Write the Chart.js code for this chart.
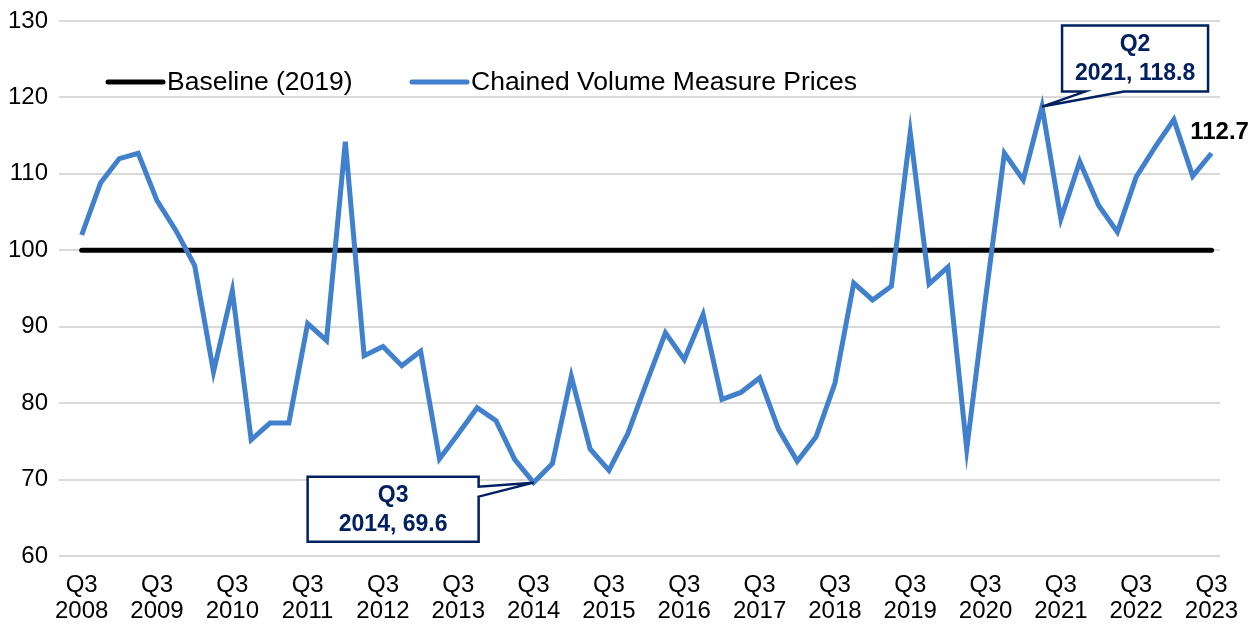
<!DOCTYPE html>
<html>
<head>
<meta charset="utf-8">
<script src="https://cdn.jsdelivr.net/npm/chart.js@4"></script>
<style>
  html, body { margin: 0; padding: 0; background: #fff; }
  #wrap { width: 1258px; height: 631px; }
</style>
</head>
<body>
<div id="wrap"><canvas id="priceChart"></canvas></div>
<script>
// quarters, Q3 2008 .. Q3 2023
const quarters = [];
for (let y = 2008; y <= 2023; y++) {
  ["Q1", "Q2", "Q3", "Q4"].forEach(q => {
    if (y === 2008 && (q === "Q1" || q === "Q2")) return;
    if (y === 2023 && q === "Q4") return;
    quarters.push(q + " " + y);
  });
}

const chainedPrices = [
  102.0, 108.8, 112.0, 112.7, 106.5, 102.6, 98.0, 84.1, 94.7, 75.2,
  77.4, 77.4, 90.4, 88.2, 114.2, 86.2, 87.4, 84.9, 86.8, 72.7,
  76.0, 79.4, 77.7, 72.6, 69.6, 72.1, 83.5, 74.0, 71.2, 76.0,
  82.7, 89.2, 85.7, 91.6, 80.5, 81.4, 83.3, 76.6, 72.4, 75.6,
  82.6, 95.7, 93.5, 95.3, 115.4, 95.6, 97.8, 74.0, 93.7, 112.7,
  109.2, 118.8, 104.1, 111.6, 105.9, 102.4, 109.6, 113.5, 117.1, 109.7,
  112.7
];
const baseline = quarters.map(() => 100);

const yTicks = [60, 70, 80, 90, 100, 110, 120, 130];
const xTickIdx = [0, 4, 8, 12, 16, 20, 24, 28, 32, 36, 40, 44, 48, 52, 56, 60];

// callouts: index into the series
const callouts = [24, 51];

const FONT = "'Liberation Sans', Arial, sans-serif";
const NAVY = "#002060";
const BLUE = "#4180CC";

const extras = {
  id: "extras",
  afterDatasetsDraw(chart) {
    const ctx = chart.ctx;
    const xs = chart.scales.x, ys = chart.scales.y;

    // legend (sits inside the plot)
    const items = [
      { ds: chart.data.datasets[1], x: 108 },
      { ds: chart.data.datasets[0], x: 412 }
    ];
    ctx.save();
    ctx.font = "26.5px " + FONT;
    ctx.textBaseline = "middle";
    items.forEach(it => {
      ctx.strokeStyle = it.ds.borderColor;
      ctx.lineWidth = it.ds.borderWidth;
      ctx.lineCap = "round";
      ctx.beginPath();
      ctx.moveTo(it.x, 82);
      ctx.lineTo(it.x + 55, 82);
      ctx.stroke();
      ctx.fillStyle = "#000";
      ctx.fillText(it.ds.label, it.x + 59, 83);
    });

    // last value label
    const last = chainedPrices.length - 1;
    const lx = xs.getPixelForValue(last), ly = ys.getPixelForValue(chainedPrices[last]);
    ctx.font = "bold 24px " + FONT;
    ctx.textAlign = "center";
    ctx.fillStyle = "#000";
    ctx.fillText(chainedPrices[last].toFixed(1), lx + 8, ly - 21);

    // callout boxes
    callouts.forEach(i => {
      const px = xs.getPixelForValue(i), py = ys.getPixelForValue(chainedPrices[i]);
      const [q, yr] = quarters[i].split(" ");
      let box, path;
      if (i === 24) {
        box = { l: px - 226, t: py - 6, r: px - 55, b: py + 59 };
        path = [[box.l, box.t], [box.r, box.t], [box.r, box.t + 10], [px, py],
                [box.r, box.t + 20], [box.r, box.b], [box.l, box.b]];
      } else {
        box = { l: px + 20, t: py - 81, r: px + 166, b: py - 15 };
        path = [[box.l, box.t], [box.r, box.t], [box.r, box.b], [box.l + 62, box.b],
                [px, py], [box.l + 23, box.b], [box.l, box.b]];
      }
      ctx.beginPath();
      path.forEach((p, k) => k ? ctx.lineTo(p[0], p[1]) : ctx.moveTo(p[0], p[1]));
      ctx.closePath();
      ctx.fillStyle = "#fff";
      ctx.fill();
      ctx.lineWidth = 2.5;
      ctx.lineJoin = "miter";
      ctx.strokeStyle = NAVY;
      ctx.stroke();
      const cx = (box.l + box.r) / 2;
      ctx.fillStyle = NAVY;
      ctx.font = "bold 23px " + FONT;
      ctx.textAlign = "center";
      ctx.fillText(q, cx, box.t + 19);
      ctx.fillText(yr + ", " + chainedPrices[i].toFixed(1), cx, box.t + 48);
    });
    ctx.restore();
  }
};

const data = {
  labels: quarters,
  datasets: [
    {
      label: "Chained Volume Measure Prices",
      data: chainedPrices.map((v, i) => ({ x: i, y: v })),
      borderColor: BLUE,
      borderWidth: 5,
      pointRadius: 0,
      tension: 0,
      order: 0
    },
    {
      label: "Baseline (2019)",
      data: baseline.map((v, i) => ({ x: i, y: v })),
      borderColor: "#000",
      borderWidth: 5,
      borderCapStyle: "round",
      pointRadius: 0,
      order: 1
    }
  ]
};

const options = {
  responsive: true,
  maintainAspectRatio: false,
  animation: false,
  layout: { padding: { top: 21, right: 38, left: 0, bottom: 0 } },
  plugins: {
    legend: { display: false },
    tooltip: { enabled: false }
  },
  scales: {
    x: {
      type: "linear",
      min: -1.205,
      max: 60.45,
      grid: { display: false },
      border: { display: false },
      afterBuildTicks: s => { s.ticks = xTickIdx.map(v => ({ value: v })); },
      afterFit: s => { s.height = 75; s.paddingLeft = 0; s.paddingRight = 0; },
      ticks: {
        autoSkip: false,
        maxRotation: 0,
        padding: 8,
        color: "#000",
        font: { family: FONT, size: 24, lineHeight: 1.08 },
        callback: v => quarters[v] ? quarters[v].split(" ") : ""
      }
    },
    y: {
      min: 60,
      max: 130,
      afterBuildTicks: s => { s.ticks = yTicks.map(v => ({ value: v })); },
      afterFit: s => { s.width = 59; s.paddingTop = 0; s.paddingBottom = 0; },
      grid: { color: "#d9d9d9", lineWidth: 2, drawTicks: false },
      border: { display: false },
      ticks: {
        padding: 11,
        color: "#000",
        font: { family: FONT, size: 24 }
      }
    }
  }
};

new Chart("priceChart", { type: "line", data, options, plugins: [extras] });
</script>
</body>
</html>
